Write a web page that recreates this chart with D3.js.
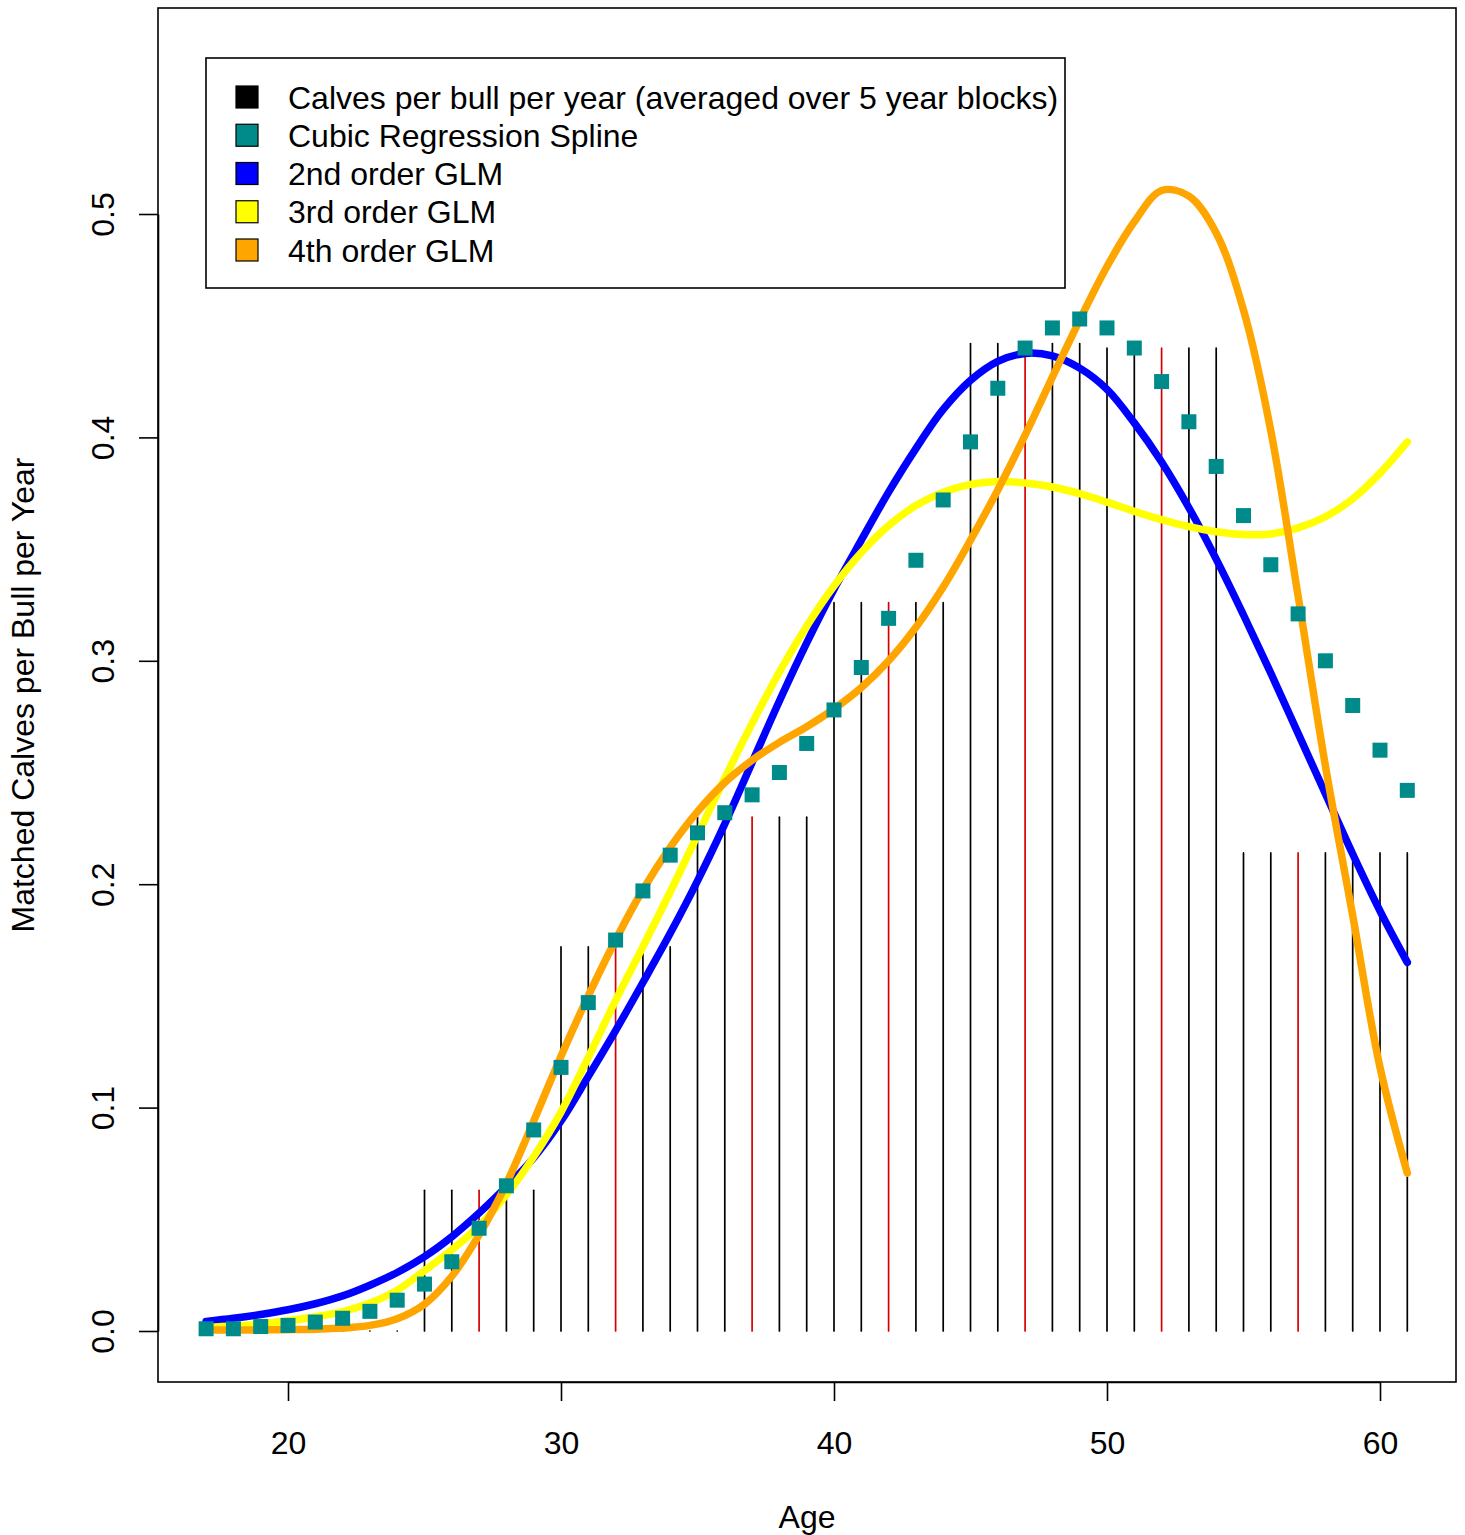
<!DOCTYPE html>
<html>
<head>
<meta charset="utf-8">
<script src="https://cdn.jsdelivr.net/npm/d3@7"></script>
<style>
  body { margin: 0; background: #fff; }
  text { font-family: "Liberation Sans", Arial, Helvetica, sans-serif; }
</style>
</head>
<body>
<svg width="1465" height="1535"></svg>
<script>
// ages 17..61
const ages = d3.range(17, 62);

// calves per bull per year, averaged over 5 year blocks (one value per age)
const blockValues = [
  0, 0, 0, 0, 0, 0, 0, 0,                 // 17-24
  0.063, 0.063, 0.063, 0.063, 0.063,      // 25-29
  0.172, 0.172, 0.172, 0.172, 0.172,      // 30-34
  0.230, 0.230, 0.230, 0.230, 0.230,      // 35-39
  0.326, 0.326, 0.326, 0.326, 0.326,      // 40-44
  0.442, 0.442, 0.442, 0.442, 0.442,      // 45-49
  0.440, 0.440, 0.440, 0.440, 0.440,      // 50-54
  0.214, 0.214, 0.214, 0.214, 0.214, 0.214, 0.214 // 55-61
];
// block mid points drawn in red
const redAges = [27, 32, 37, 42, 47, 52, 57];

const splineVals = [
  0.001, 0.001, 0.002, 0.0025, 0.004, 0.0057, 0.0088, 0.0138, 0.021, 0.031,
  0.046, 0.065, 0.090, 0.118, 0.147, 0.175, 0.197, 0.213, 0.223, 0.232,
  0.240, 0.250, 0.263, 0.278, 0.297, 0.319, 0.345, 0.372, 0.398, 0.422,
  0.440, 0.449, 0.453, 0.449, 0.440, 0.425, 0.407, 0.387, 0.365, 0.343,
  0.321, 0.300, 0.280, 0.260, 0.242
];

const glm2 = [
  0.0043, 0.0057, 0.0074, 0.0095, 0.0122, 0.0157, 0.0205, 0.0262, 0.0333, 0.0422,
  0.0528, 0.0646, 0.0775, 0.094, 0.114, 0.1345, 0.156, 0.178, 0.2015, 0.227,
  0.2545, 0.282, 0.308, 0.332, 0.354, 0.3755, 0.395, 0.4125, 0.4255, 0.434,
  0.4376, 0.4365, 0.431, 0.4215, 0.4065, 0.389, 0.3685, 0.3455, 0.3205, 0.2945,
  0.2675, 0.2405, 0.2135, 0.188, 0.165
];

const glm3 = [
  0.0016, 0.0022, 0.0031, 0.0046, 0.0064, 0.0087, 0.0125, 0.0183, 0.027, 0.0363,
  0.047, 0.061, 0.078, 0.098, 0.1225, 0.148, 0.172, 0.1965, 0.222, 0.2475,
  0.272, 0.295, 0.3155, 0.3335, 0.3485, 0.3605, 0.3695, 0.3755, 0.379, 0.3803,
  0.3796, 0.3778, 0.3748, 0.371, 0.3669, 0.3632, 0.3601, 0.3578, 0.3565, 0.3568,
  0.3595, 0.3645, 0.3725, 0.384, 0.398
];

const glm4 = [
  0.0004, 0.0004, 0.0005, 0.0006, 0.0008, 0.0013, 0.0025, 0.0055, 0.012, 0.0245,
  0.043, 0.066, 0.094, 0.123, 0.150, 0.175, 0.1975, 0.2165, 0.2325, 0.2455,
  0.2555, 0.2635, 0.2705, 0.2785, 0.288, 0.300, 0.315, 0.333, 0.354, 0.3765,
  0.401, 0.427, 0.4525, 0.4765, 0.4965, 0.5105, 0.508, 0.4915, 0.457, 0.403,
  0.329, 0.253, 0.186, 0.118, 0.0707
];

const xTicks = [20, 30, 40, 50, 60];
const yTicks = [0, 0.1, 0.2, 0.3, 0.4, 0.5];

const legendLabels = [
  "Calves per bull per year (averaged over 5 year blocks)",
  "Cubic Regression Spline",
  "2nd order GLM",
  "3rd order GLM",
  "4th order GLM"
];
const legendColors = ["#000000", "#008B8B", "#0000FF", "#FFFF00", "#FFA500"];

const svg = d3.select("svg");
const fontSize = 32;

const x = d3.scaleLinear().domain([20, 60]).range([288, 1380]);
const y = d3.scaleLinear().domain([0, 0.5]).range([1331, 214]);

const plot = { left: 158, right: 1456, top: 8, bottom: 1382 };

// vertical lines (type = "h")
svg.append("g")
  .selectAll("line")
  .data(ages)
  .join("line")
    .attr("x1", d => x(d))
    .attr("x2", d => x(d))
    .attr("y1", y(0))
    .attr("y2", (d, i) => y(blockValues[i]))
    .attr("stroke", d => redAges.includes(d) ? "#d60000" : "#000")
    .attr("stroke-width", 1.7)
    .attr("stroke-linecap", "round");

// fitted curves
const line = d3.line()
  .x((d, i) => x(ages[i]))
  .y(d => y(d))
  .curve(d3.curveCatmullRom.alpha(0.5));

[[glm2, "#0000FF"], [glm3, "#FFFF00"], [glm4, "#FFA500"]].forEach(([vals, col]) => {
  svg.append("path")
    .attr("d", line(vals))
    .attr("fill", "none")
    .attr("stroke", col)
    .attr("stroke-width", 7.5)
    .attr("stroke-linecap", "round")
    .attr("stroke-linejoin", "round");
});

// spline points
const ps = 15;
svg.append("g")
  .selectAll("rect")
  .data(splineVals)
  .join("rect")
    .attr("x", (d, i) => x(ages[i]) - ps / 2)
    .attr("y", d => y(d) - ps / 2)
    .attr("width", ps)
    .attr("height", ps)
    .attr("fill", "#008B8B");

// frame
svg.append("rect")
  .attr("x", plot.left).attr("y", plot.top)
  .attr("width", plot.right - plot.left)
  .attr("height", plot.bottom - plot.top)
  .attr("fill", "none")
  .attr("stroke", "#000")
  .attr("stroke-width", 1.6);

// x axis
const gx = svg.append("g")
  .attr("transform", `translate(0,${plot.bottom})`)
  .call(d3.axisBottom(x).tickValues(xTicks).tickSize(19).tickSizeOuter(0).tickPadding(30));
gx.select(".domain").attr("stroke-width", 1.6);
gx.selectAll(".tick line").attr("stroke-width", 1.6);
gx.selectAll("text")
  .attr("font-size", fontSize)
  .attr("font-family", "Liberation Sans, Arial, sans-serif")
  .attr("fill", "#000");

// y axis
const gy = svg.append("g")
  .attr("transform", `translate(${plot.left},0)`)
  .call(d3.axisLeft(y).tickValues(yTicks).tickFormat(d3.format(".1f")).tickSize(19).tickSizeOuter(0));
gy.select(".domain").attr("stroke-width", 1.6);
gy.selectAll(".tick line").attr("stroke-width", 1.6);
gy.selectAll("text")
  .attr("transform", "rotate(-90)")
  .attr("x", 0)
  .attr("y", -44)
  .attr("dy", 0)
  .attr("text-anchor", "middle")
  .attr("font-size", fontSize)
  .attr("font-family", "Liberation Sans, Arial, sans-serif")
  .attr("fill", "#000");

// axis titles
svg.append("text")
  .attr("x", (plot.left + plot.right) / 2)
  .attr("y", 1528)
  .attr("text-anchor", "middle")
  .attr("font-size", fontSize)
  .text("Age");

svg.append("text")
  .attr("transform", `translate(34,${(plot.top + plot.bottom) / 2}) rotate(-90)`)
  .attr("text-anchor", "middle")
  .attr("font-size", fontSize)
  .text("Matched Calves per Bull per Year");

// legend
const legend = svg.append("g");
legend.append("rect")
  .attr("x", 206).attr("y", 58)
  .attr("width", 1065 - 206).attr("height", 288 - 58)
  .attr("fill", "#fff")
  .attr("stroke", "#000")
  .attr("stroke-width", 1.6);

const rowY = d3.scaleLinear().domain([0, 4]).range([97, 250]);
const items = legend.selectAll("g.item")
  .data(legendLabels)
  .join("g")
    .attr("class", "item")
    .attr("transform", (d, i) => `translate(0,${rowY(i)})`);
items.append("rect")
  .attr("x", 247 - 11).attr("y", -11)
  .attr("width", 22).attr("height", 22)
  .attr("fill", (d, i) => legendColors[i])
  .attr("stroke", "#000")
  .attr("stroke-width", 1.2);
items.append("text")
  .attr("x", 288)
  .attr("dy", "0.36em")
  .attr("font-size", fontSize)
  .text(d => d);
</script>
</body>
</html>
